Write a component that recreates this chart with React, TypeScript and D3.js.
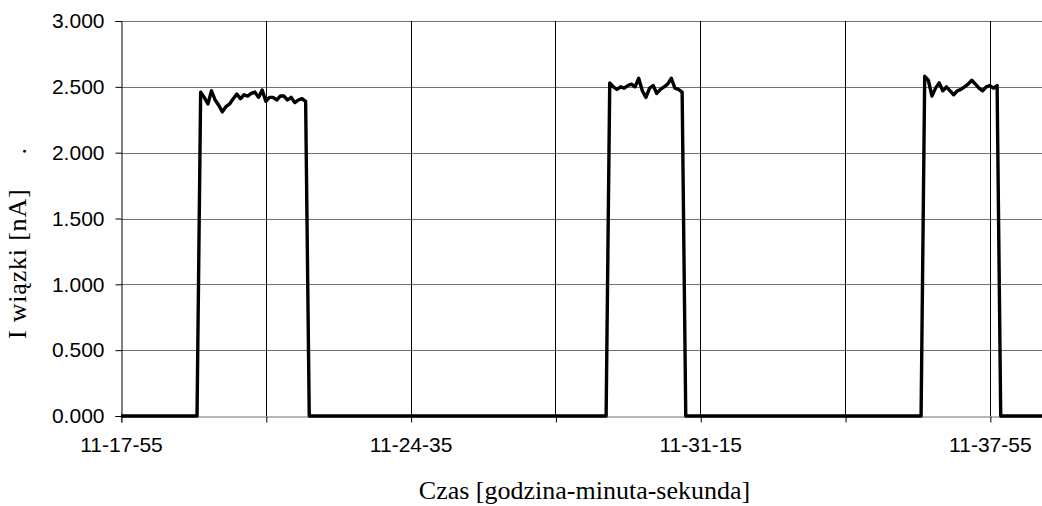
import { useEffect, useRef } from "react";
import * as d3 from "d3";

// time axis: seconds counted from T0, data sampled every STEP seconds
const T0 = "11-17-55";
const T_END = 1272;
const STEP = 5;

const Y_TICKS = [0, 0.5, 1, 1.5, 2, 2.5, 3];
const X_GRID = [0, 200, 400, 600, 800, 1000, 1200];
const X_LABELS = [0, 400, 800, 1200];

// beam current [nA] during the three pulses, first sample time of each
const PULSE_START = ["11-19-45", "11-29-10", "11-36-25"];
const PULSE_1 = [
  2.46, 2.42, 2.37, 2.47, 2.4, 2.36, 2.31, 2.35, 2.37, 2.41,
  2.445, 2.41, 2.44, 2.43, 2.45, 2.46, 2.42, 2.475, 2.39, 2.42,
  2.42, 2.4, 2.43, 2.43, 2.4, 2.42, 2.38, 2.4, 2.41, 2.39,
];
const PULSE_2 = [
  2.53, 2.5, 2.48, 2.5, 2.49, 2.51, 2.52, 2.5, 2.565, 2.47,
  2.42, 2.49, 2.51, 2.45, 2.48, 2.5, 2.52, 2.565, 2.49, 2.48, 2.46,
];
const PULSE_3 = [
  2.58, 2.55, 2.43, 2.49, 2.53, 2.47, 2.5, 2.47, 2.44, 2.47,
  2.48, 2.5, 2.52, 2.55, 2.52, 2.49, 2.47, 2.5, 2.51, 2.49, 2.51,
];
const PULSES = [PULSE_1, PULSE_2, PULSE_3];

const W = 1042;
const H = 506;
const SANS = "'Liberation Sans', Arial, sans-serif";
const SERIF = "'Liberation Serif', 'Times New Roman', serif";

const toSec = (s: string) => {
  const [h, m, x] = s.split("-").map(Number);
  return h * 3600 + m * 60 + x;
};
const pad = (n: number) => String(n).padStart(2, "0");
const fmtTime = (off: number) => {
  const t = toSec(T0) + off;
  return `${pad(Math.floor(t / 3600))}-${pad(Math.floor(t / 60) % 60)}-${pad(t % 60)}`;
};

export default function App() {
  const svgRef = useRef<SVGSVGElement>(null);

  useEffect(() => {
    const svg = d3.select(svgRef.current!);
    svg.selectAll("*").remove();

    const left = 121, right = W, top = 21, bottom = 416;
    const x = d3.scaleLinear().domain([0, T_END]).range([left, right]);
    const y = d3.scaleLinear().domain([0, 3]).range([bottom, top]);
    const crisp = (v: number) => Math.round(v) + 0.5;

    // ── series: zero baseline with the three pulses ─────────────────────
    const pts: [number, number][] = [[0, 0]];
    PULSES.forEach((vals, k) => {
      const s = toSec(PULSE_START[k]) - toSec(T0);
      pts.push([s - STEP, 0]);
      vals.forEach((v, i) => pts.push([s + i * STEP, v]));
      pts.push([s + vals.length * STEP, 0]);
    });
    pts.push([T_END, 0]);

    // ── grid ────────────────────────────────────────────────────────────
    const g = svg.append("g");
    g.selectAll("line.hgrid")
      .data(Y_TICKS.filter((d) => d > 0))
      .join("line")
      .attr("x1", left).attr("x2", right)
      .attr("y1", (d) => crisp(y(d))).attr("y2", (d) => crisp(y(d)))
      .attr("stroke", "#707070");
    g.selectAll("line.vgrid")
      .data(X_GRID.filter((d) => d > 0))
      .join("line")
      .attr("x1", (d) => crisp(x(d))).attr("x2", (d) => crisp(x(d)))
      .attr("y1", top).attr("y2", bottom)
      .attr("stroke", "#000");

    // ── axes ────────────────────────────────────────────────────────────
    const yAxis = svg.append("g").attr("transform", `translate(${crisp(left)},0)`);
    yAxis.call(d3.axisLeft(y).tickValues(Y_TICKS).tickSize(6).tickPadding(11)
      .tickFormat((d) => d3.format(".3f")(d as number)));
    yAxis.select(".domain").attr("stroke", "#000");
    yAxis.selectAll("text")
      .attr("font-family", SANS).attr("font-size", 21).attr("fill", "#000");

    const xAxis = svg.append("g").attr("transform", `translate(0,${crisp(bottom)})`);
    xAxis.call(d3.axisBottom(x).tickValues(X_GRID).tickSize(6).tickPadding(15)
      .tickFormat((d) => (X_LABELS.includes(d as number) ? fmtTime(d as number) : "")));
    xAxis.select(".domain").attr("stroke", "#707070");
    xAxis.selectAll(".tick line").attr("transform", "translate(0.5,0)");
    xAxis.selectAll("text")
      .attr("font-family", SANS).attr("font-size", 21).attr("fill", "#000");

    // ── line ────────────────────────────────────────────────────────────
    const line = d3.line<[number, number]>().x((d) => x(d[0])).y((d) => y(d[1]));
    svg.append("path")
      .attr("d", line(pts))
      .attr("fill", "none")
      .attr("stroke", "#000")
      .attr("stroke-width", 3.4)
      .attr("stroke-linejoin", "round");

    // ── titles ──────────────────────────────────────────────────────────
    svg.append("text")
      .attr("x", (left + right) / 2 + 3).attr("y", 499)
      .attr("text-anchor", "middle")
      .attr("font-family", SERIF).attr("font-size", 26)
      .text("Czas [godzina-minuta-sekunda]");
    const yt = svg.append("text")
      .attr("transform", "translate(26,339) rotate(-90)")
      .attr("font-family", SERIF).attr("font-size", 26)
      .attr("letter-spacing", 0.8);
    yt.append("tspan").text("I wiązki [nA]");
    yt.append("tspan").attr("dx", 34).text(".");
  }, []);

  return (
    <svg
      ref={svgRef}
      width={W}
      height={H}
      style={{ position: "absolute", left: 0, top: 0, background: "#fff" }}
    />
  );
}
